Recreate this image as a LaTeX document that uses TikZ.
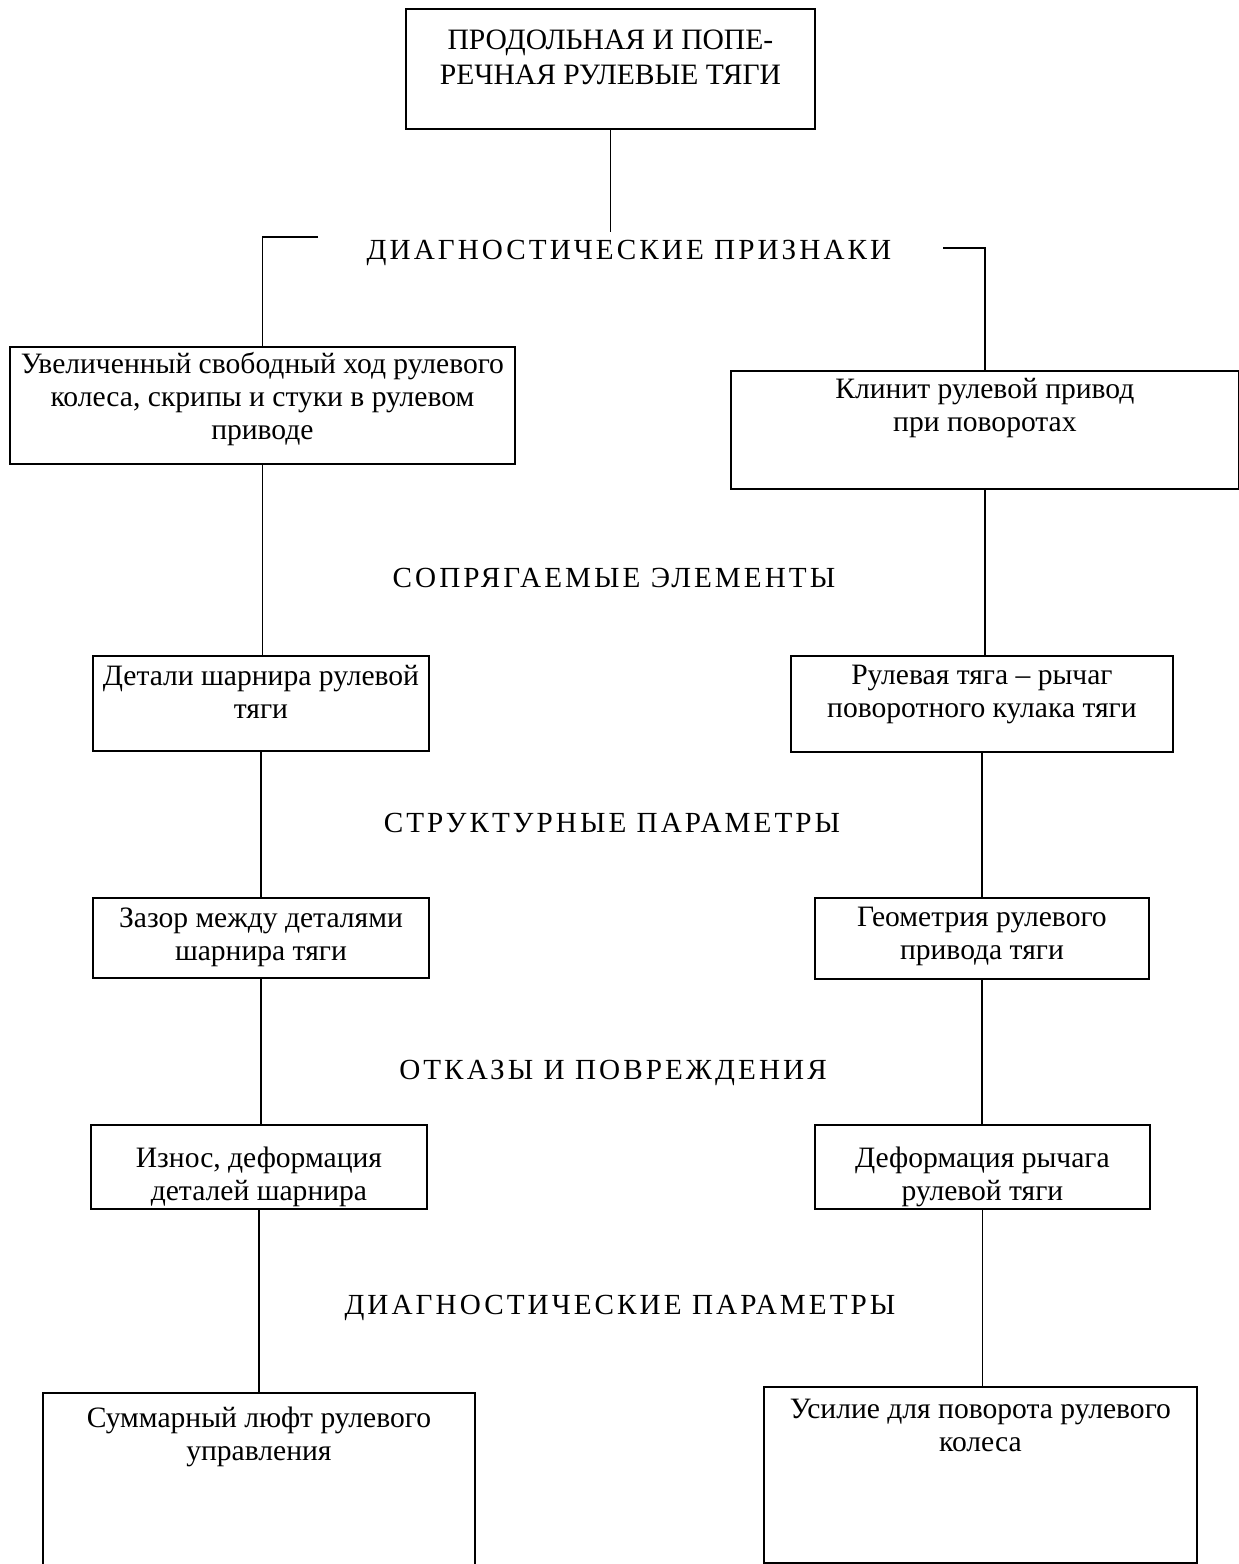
\documentclass[tikz,border=0pt]{standalone}
\usepackage{fontspec}
\setmainfont{Liberation Serif}
\newfontfamily\razryadka[LetterSpace=10.5]{Liberation Serif}
\usetikzlibrary{positioning}
\newdimen\px \px=0.48pt

\tikzset{
  blok/.style={draw,line width=0.9pt,inner sep=0pt,anchor=north west},
  tekst/.style={align=center,anchor=north,inner sep=0pt,
    font=\fontsize{14.2}{15.84}\selectfont},
  zagol/.style={inner sep=0pt,font=\fontsize{14}{15.84}\selectfont\razryadka},
  svyaz/.style={line width=0.8pt}
}

\begin{document}
\begin{tikzpicture}[x=0.48pt,y=-0.48pt]

  % ---- page frame --------------------------------------------
  \useasboundingbox (0,0) rectangle (1239,1564);

  % ============================================================
  %  TOP: object of diagnosis
  % ============================================================
  \node[blok,minimum width=409\px,minimum height=120\px] (tyagi) at (405,8) {};
  \node[tekst] (tyagi_t) at ([yshift=-21\px]tyagi.north)
    {ПРОДОЛЬНАЯ И ПОПЕ-\\[1pt]РЕЧНАЯ РУЛЕВЫЕ ТЯГИ};

  % ---- level headers -----------------------------------------
  \node[zagol] (priznaki)  at (629,253)  {ДИАГНОСТИЧЕСКИЕ ПРИЗНАКИ};
  \node[zagol] (elementy)  at (614,578)  {СОПРЯГАЕМЫЕ ЭЛЕМЕНТЫ};
  \node[zagol] (struktura) at (612,823)  {СТРУКТУРНЫЕ ПАРАМЕТРЫ};
  \node[zagol] (otkazy)    at (613,1073) {ОТКАЗЫ И ПОВРЕЖДЕНИЯ};
  \node[zagol] (parametry) at (620,1308) {ДИАГНОСТИЧЕСКИЕ ПАРАМЕТРЫ};

  % ============================================================
  %  LEFT BRANCH
  % ============================================================
  \node[blok,minimum width=505\px,minimum height=117\px] (l1) at (9,346) {};
  \node[tekst] (l1_t) at ([yshift=-6\px]l1.north)
    {Увеличенный свободный ход рулевого\\колеса, скрипы и стуки в рулевом\\приводе};

  \node[blok,minimum width=336\px,minimum height=95\px] (l2) at (92,655) {};
  \node[tekst] (l2_t) at ([yshift=-10\px]l2.north)
    {Детали шарнира рулевой\\тяги};

  \node[blok,minimum width=336\px,minimum height=80\px] (l3) at (92,897) {};
  \node[tekst] (l3_t) at ([yshift=-10\px]l3.north)
    {Зазор между деталями\\шарнира тяги};

  \node[blok,minimum width=336\px,minimum height=84\px] (l4) at (90,1124) {};
  \node[tekst] (l4_t) at ([yshift=-23\px]l4.north)
    {Износ, деформация\\деталей шарнира};

  % bottom edge falls outside the page
  \node[blok,minimum width=432\px,minimum height=180\px] (l5) at (42,1392) {};
  \node[tekst] (l5_t) at ([yshift=-15\px]l5.north)
    {Суммарный люфт рулевого\\управления};

  % ============================================================
  %  RIGHT BRANCH
  % ============================================================
  \node[blok,minimum width=508\px,minimum height=118\px] (r1) at (730,370) {};
  \node[tekst] (r1_t) at ([yshift=-8\px]r1.north)
    {Клинит рулевой привод\\при поворотах};

  \node[blok,minimum width=382\px,minimum height=96\px] (r2) at (790,655) {};
  \node[tekst] (r2_t) at ([yshift=-10\px]r2.north)
    {Рулевая тяга -- рычаг\\поворотного кулака тяги};

  \node[blok,minimum width=334\px,minimum height=81\px] (r3) at (814,897) {};
  \node[tekst] (r3_t) at ([yshift=-10\px]r3.north)
    {Геометрия рулевого\\привода тяги};

  \node[blok,minimum width=335\px,minimum height=84\px] (r4) at (814,1124) {};
  \node[tekst] (r4_t) at ([yshift=-23\px]r4.north)
    {Деформация рычага\\рулевой тяги};

  \node[blok,minimum width=433\px,minimum height=176\px] (r5) at (763,1386) {};
  \node[tekst] (r5_t) at ([yshift=-13\px]r5.north)
    {Усилие для поворота рулевого\\колеса};

  % ---- connectors --------------------------------------------
  \coordinate (ugol_l) at (318,237);
  \coordinate (ugol_r) at (943,248);
  \draw[svyaz] (tyagi.south) -- (tyagi.south |- 0,232);
  \draw[svyaz] (ugol_l) -| (l1.north);
  \draw[svyaz] (ugol_r) -| (r1.north);

  \draw[svyaz] (l1.south) -- (l1.south |- l2.north);
  \draw[svyaz] (l2.south) -- (l2.south |- l3.north);
  \draw[svyaz] (l3.south) -- (l3.south |- l4.north);
  \draw[svyaz] (l4.south) -- (l4.south |- l5.north);

  \draw[svyaz] (r1.south) -- (r1.south |- r2.north);
  \draw[svyaz] (r2.south) -- (r2.south |- r3.north);
  \draw[svyaz] (r3.south) -- (r3.south |- r4.north);
  \draw[svyaz] (r4.south) -- (r4.south |- r5.north);

\end{tikzpicture}
\end{document}
